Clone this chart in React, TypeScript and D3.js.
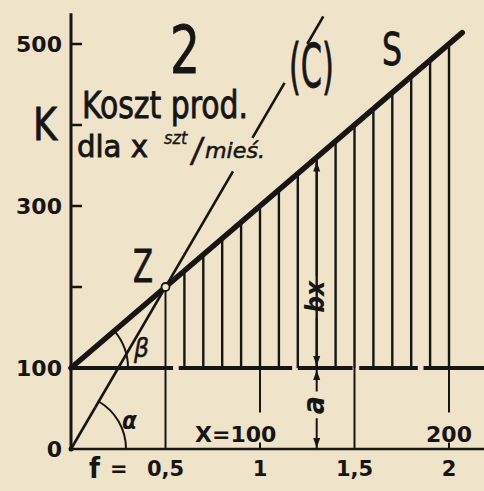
import React from "react";
import * as d3 from "d3";

// Break-even diagram: fixed cost a, variable cost b·x, revenue line C.
const W = 484;
const H = 491;

const F_TICKS = [0.5, 1, 1.5, 2];
const F_TICK_TEXT = ["0,5", "1", "1,5", "2"];
const K_TICKS = [200, 300, 400, 500];
const K_LABELS = [0, 100, 300, 500];
const K_LABEL_TEXT = ["0", "100", "300", "500"];
const PIECES_F = [1, 2];
const PIECES_TEXT = ["X=100", "200"];

const FIXED_COST = 100; // a
const UNIT_COST = 200; // b
const PRICE = 400; // slope of revenue line C
const BREAK_EVEN_F = 0.5;
const HATCH_F = [0.6, 0.7, 0.8, 0.9, 1.0, 1.1, 1.2, 1.3, 1.4, 1.5, 1.6, 1.7, 1.8, 1.9, 2.0];
const S_END_F = 2.07;
const C_SEGMENTS: [number, number][] = [[0, 0.857], [0.96, 1.13], [1.25, 1.335]];
const FIXED_LINE_GAPS: [number, number][] = [[0.54, 0.57], [1.17, 1.2], [1.49, 1.525], [1.835, 1.865]];
const DIM_F = 1.3;

const INK = "#161514";
const PAPER = "#efe3c9";
const FONT = "'Liberation Sans Narrow', 'DejaVu Sans Condensed', 'Liberation Sans', sans-serif";

export default function App() {
  const x = d3.scaleLinear().domain([0, 2]).range([71, 449]);
  const y = d3.scaleLinear().domain([0, 500]).range([449, 44]);
  const fRight = x.invert(W);

  const cost = (f: number) => FIXED_COST + UNIT_COST * f;
  const revenue = (f: number) => PRICE * f;

  const line = d3
    .line<[number, number]>()
    .x((d) => x(d[0]))
    .y((d) => y(d[1]));

  // fixed-cost line split by its gaps
  const fixedSegs: [number, number][] = [];
  let start = 0;
  FIXED_LINE_GAPS.forEach(([g0, g1]) => {
    fixedSegs.push([start, g0]);
    start = g1;
  });
  fixedSegs.push([start, fRight]);

  // angle arcs
  const ox = x(0);
  const angC = Math.atan2(y(revenue(1)) - y(0), x(1) - x(0));
  const angS = Math.atan2(y(cost(1)) - y(cost(0)), x(1) - x(0));
  const alphaArc = d3.path();
  alphaArc.arc(ox, y(0), 55, 0, angC, true);
  const betaArc = d3.path();
  betaArc.arc(ox, y(FIXED_COST), 57, 0, angS, true);

  const dx = x(DIM_F);
  const arrow = (tipY: number, dir: number) =>
    `M${dx},${tipY} L${dx - 3.5},${tipY - dir * 10} L${dx + 3.5},${tipY - dir * 10} Z`;

  const numStyle = { fontFamily: "'DejaVu Sans', sans-serif", fontWeight: 700 as const, fill: INK };
  const heavy = { fontFamily: FONT, fill: INK, stroke: INK, strokeWidth: 0.8 };

  return (
    <svg
      width={W}
      height={H}
      viewBox={`0 0 ${W} ${H}`}
      style={{ position: "absolute", left: 0, top: 0, background: PAPER }}
    >
      <rect width={W} height={H} fill={PAPER} />

      {/* axes */}
      <line x1={x(0)} x2={x(0)} y1={y(0)} y2={y(538)} stroke={INK} strokeWidth={3} />
      <line x1={x(0)} x2={W} y1={y(0)} y2={y(0)} stroke={INK} strokeWidth={2.6} />
      {K_TICKS.map((k) => (
        <line key={k} x1={x(0)} x2={x(0) + 11} y1={y(k)} y2={y(k)} stroke={INK} strokeWidth={2.5} />
      ))}
      <circle cx={x(0)} cy={y(0)} r={2.5} fill={INK} />

      {/* hatching between fixed-cost line and total-cost line */}
      {HATCH_F.map((f) => (
        <line key={f} x1={x(f)} x2={x(f)} y1={y(FIXED_COST)} y2={y(cost(f))} stroke={INK} strokeWidth={2.4} />
      ))}

      {/* verticals down to the axis */}
      <line x1={x(BREAK_EVEN_F)} x2={x(BREAK_EVEN_F)} y1={y(0)} y2={y(cost(BREAK_EVEN_F))} stroke={INK} strokeWidth={2} />
      <line x1={x(1.5)} x2={x(1.5)} y1={y(0)} y2={y(FIXED_COST)} stroke={INK} strokeWidth={2} />
      {PIECES_F.map((f) => (
        <g key={f}>
          <line x1={x(f)} x2={x(f)} y1={y(FIXED_COST)} y2={y(45)} stroke={INK} strokeWidth={2} />
          <line x1={x(f)} x2={x(f)} y1={y(8)} y2={y(0)} stroke={INK} strokeWidth={2} />
        </g>
      ))}

      {/* fixed cost line a */}
      {fixedSegs.map(([a, b], i) => (
        <path
          key={i}
          d={line([[a, FIXED_COST], [b, FIXED_COST]]) || ""}
          stroke={INK}
          strokeWidth={4}
          fill="none"
        />
      ))}

      {/* revenue line C */}
      {C_SEGMENTS.map(([a, b], i) => (
        <path key={i} d={line([[a, revenue(a)], [b, revenue(b)]]) || ""} stroke={INK} strokeWidth={2.6} fill="none" />
      ))}

      {/* total cost line S */}
      <path
        d={line([[0, cost(0)], [S_END_F, cost(S_END_F)]]) || ""}
        stroke={INK}
        strokeWidth={5.5}
        strokeLinecap="round"
        fill="none"
      />

      {/* angle arcs */}
      <path d={alphaArc.toString()} stroke={INK} strokeWidth={2} fill="none" />
      <path d={betaArc.toString()} stroke={INK} strokeWidth={2} fill="none" />

      {/* break-even point Z */}
      <circle cx={x(BREAK_EVEN_F)} cy={y(cost(BREAK_EVEN_F))} r={4} fill={PAPER} stroke={INK} strokeWidth={1.8} />

      {/* dimension line for a and b·x */}
      <line x1={dx} x2={dx} y1={y(cost(DIM_F)) + 4} y2={y(214)} stroke={INK} strokeWidth={2} />
      <line x1={dx} x2={dx} y1={y(162)} y2={y(FIXED_COST)} stroke={INK} strokeWidth={2} />
      <line x1={dx} x2={dx} y1={y(FIXED_COST)} y2={y(71)} stroke={INK} strokeWidth={2} />
      <line x1={dx} x2={dx} y1={y(38)} y2={y(0)} stroke={INK} strokeWidth={2} />
      <path d={arrow(y(cost(DIM_F)) + 4, -1)} fill={INK} />
      <path d={arrow(y(FIXED_COST) - 2, 1)} fill={INK} />
      <path d={arrow(y(FIXED_COST) + 2, -1)} fill={INK} />
      <path d={arrow(y(0) - 1, 1)} fill={INK} />
      <text
        transform={`translate(${dx + 7},${y(188)}) rotate(-90)`}
        textAnchor="middle"
        fontFamily={FONT}
        fontStyle="italic"
        fontWeight={700}
        fontSize={26}
        fill={INK}
      >
        bx
      </text>
      <text
        transform={`translate(${dx + 7},${y(54)}) rotate(-90)`}
        textAnchor="middle"
        fontFamily={FONT}
        fontStyle="italic"
        fontWeight={700}
        fontSize={30}
        fill={INK}
      >
        a
      </text>

      {/* axis labels */}
      {K_LABELS.map((k, i) => (
        <text key={k} x={62} y={y(k) + 8} textAnchor="end" fontSize={22} {...numStyle}>
          {K_LABEL_TEXT[i]}
        </text>
      ))}
      {F_TICKS.map((f, i) => (
        <text key={f} x={x(f)} y={476} textAnchor="middle" fontSize={21} {...numStyle}>
          {F_TICK_TEXT[i]}
        </text>
      ))}
      <text x={89} y={478} fontSize={28} fontFamily={FONT} fontWeight={700} fill={INK}>
        f
      </text>
      <text x={110} y={476} fontSize={21} {...numStyle}>
        =
      </text>
      {PIECES_F.map((f, i) => (
        <text
          key={f}
          x={i === 0 ? x(f) - 65 : x(f)}
          y={442}
          textAnchor={i === 0 ? "start" : "middle"}
          fontSize={22}
          {...numStyle}
        >
          {PIECES_TEXT[i]}
        </text>
      ))}

      {/* titles and point labels */}
      <text x={170} y={73} fontSize={66} textLength={30} lengthAdjust="spacingAndGlyphs" {...heavy}>
        2
      </text>
      <text x={33} y={140} fontSize={45} textLength={24} lengthAdjust="spacingAndGlyphs" {...heavy}>
        K
      </text>
      <text x={82} y={118} fontSize={37} textLength={166} lengthAdjust="spacingAndGlyphs" {...heavy}>
        Koszt prod.
      </text>
      <text x={77} y={157} fontSize={30} textLength={71} lengthAdjust="spacingAndGlyphs" {...heavy}>
        dla x
      </text>
      <text x={164} y={144} fontFamily={FONT} fontStyle="italic" fontSize={18} fill={INK} stroke={INK} strokeWidth={0.4}>
        szt
      </text>
      <text x={192} y={162} fontFamily={FONT} fontStyle="italic" fontSize={33} fill={INK} stroke={INK} strokeWidth={0.6}>
        /
      </text>
      <text
        x={205}
        y={158}
        fontStyle="italic"
        fontSize={22}
        textLength={60}
        lengthAdjust="spacingAndGlyphs"
        {...heavy}
        strokeWidth={0.5}
      >
        mieś.
      </text>
      <text x={289} y={87} fontSize={60} textLength={45} lengthAdjust="spacingAndGlyphs" {...heavy}>
        (C)
      </text>
      <text x={382} y={65} fontSize={44} textLength={20} lengthAdjust="spacingAndGlyphs" {...heavy}>
        S
      </text>
      <text x={133} y={282} fontSize={44} textLength={20} lengthAdjust="spacingAndGlyphs" {...heavy}>
        Z
      </text>
      <text x={134} y={357} fontFamily={FONT} fontStyle="italic" fontSize={26} fill={INK} stroke={INK} strokeWidth={0.5}>
        β
      </text>
      <text x={122} y={429} fontFamily={FONT} fontStyle="italic" fontWeight={700} fontSize={24} fill={INK}>
        α
      </text>
    </svg>
  );
}
